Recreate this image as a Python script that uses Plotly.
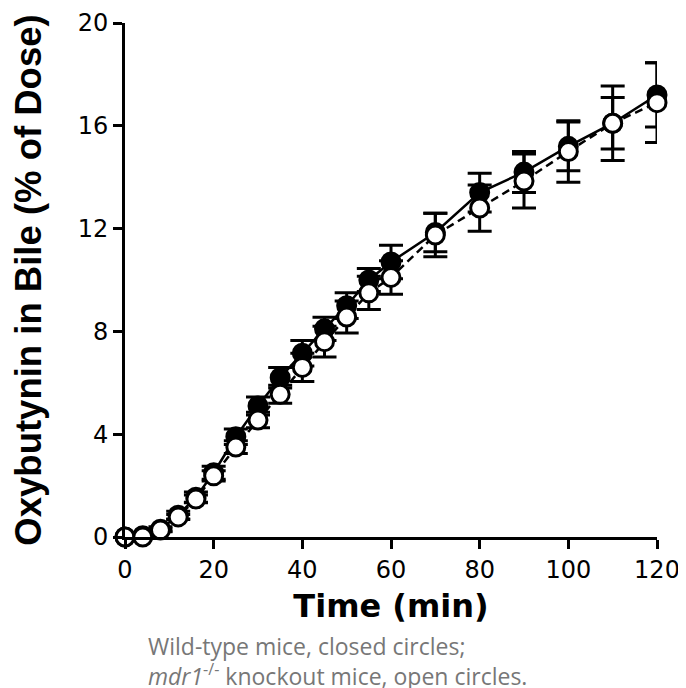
import plotly.graph_objects as go

time_min = [0, 4, 8, 12, 16, 20, 25, 30, 35, 40, 45, 50, 55, 60, 70, 80, 90, 100, 110, 120]
wild_type = [0, 0.05, 0.3, 0.85, 1.55, 2.5, 3.9, 5.1, 6.2, 7.15, 8.1, 9.0, 10.0, 10.7, 11.85, 13.4, 14.2, 15.2, 16.1, 17.2]
wild_type_sd = [0, 0.05, 0.1, 0.15, 0.2, 0.25, 0.3, 0.35, 0.4, 0.5, 0.45, 0.5, 0.45, 0.65, 0.75, 0.75, 0.8, 0.95, 1.0, 1.25]
knockout = [0, 0, 0.27, 0.78, 1.48, 2.38, 3.5, 4.55, 5.55, 6.6, 7.6, 8.56, 9.5, 10.1, 11.75, 12.8, 13.85, 15.0, 16.1, 16.9]
knockout_sd = [0, 0, 0.05, 0.1, 0.15, 0.2, 0.25, 0.3, 0.35, 0.55, 0.6, 0.62, 0.65, 0.65, 0.85, 0.9, 1.05, 1.2, 1.45, 1.55]

x_ticks = [0, 20, 40, 60, 80, 100, 120]
y_ticks = [0, 4, 8, 12, 16, 20]

caption_line1 = "Wild-type mice, closed circles;"
caption_line2 = "<i>mdr1</i><sup>-/-</sup> knockout mice, open circles."

fig = go.Figure()

fig.add_trace(go.Scatter(
    x=time_min, y=wild_type, mode="lines+markers", name="Wild-type",
    line=dict(color="black", width=2.5, dash="solid"),
    marker=dict(symbol="circle", size=18, color="black", line=dict(color="black", width=3)),
    error_y=dict(type="data", array=wild_type_sd, symmetric=True, color="black", thickness=3, width=12),
    cliponaxis=False,
))

fig.add_trace(go.Scatter(
    x=time_min, y=knockout, mode="lines+markers", name="mdr1-/-",
    line=dict(color="black", width=2.5, dash="8px,5px"),
    marker=dict(symbol="circle", size=18, color="white", line=dict(color="black", width=3)),
    error_y=dict(type="data", array=knockout_sd, symmetric=True, color="black", thickness=3, width=12),
    cliponaxis=False,
))

fig.update_layout(
    width=678, height=680,
    margin=dict(l=117, r=29, t=15, b=151, autoexpand=False),
    paper_bgcolor="white", plot_bgcolor="white",
    showlegend=False,
    font=dict(family="DejaVu Sans", color="black"),
)

fig.update_xaxes(
    range=[0, 120], tickvals=x_ticks, ticktext=[str(v) for v in x_ticks],
    automargin=False,
    showgrid=False, zeroline=False, showline=True, linecolor="black", linewidth=3,
    ticks="outside", ticklen=9, tickwidth=3, tickcolor="black",
    tickfont=dict(family="DejaVu Sans", size=24, color="black"),
    title=dict(text="<b>Time (min)</b>", font=dict(family="DejaVu Sans", size=32, color="black"), standoff=12),
)

fig.update_yaxes(
    range=[0, 20], tickvals=y_ticks, ticktext=[str(v) for v in y_ticks],
    automargin=False,
    showgrid=False, zeroline=False, showline=True, linecolor="black", linewidth=3,
    ticks="outside", ticklen=9, tickwidth=3, tickcolor="black",
    tickfont=dict(family="DejaVu Sans", size=24, color="black"),
    title=dict(text="<b>Oxybutynin in Bile (% of Dose)</b>", font=dict(family="Liberation Sans", size=36.5, color="black"), standoff=31),
)

fig.add_annotation(text=caption_line1, xref="paper", yref="paper", x=0.04, y=-0.213,
                   xanchor="left", yanchor="middle", showarrow=False,
                   font=dict(family="Open Sans", size=23, color="#777777"))
fig.add_annotation(text=caption_line2, xref="paper", yref="paper", x=0.04, y=-0.268,
                   xanchor="left", yanchor="middle", showarrow=False,
                   font=dict(family="Open Sans", size=23, color="#777777"))

fig.write_html("out.html")
